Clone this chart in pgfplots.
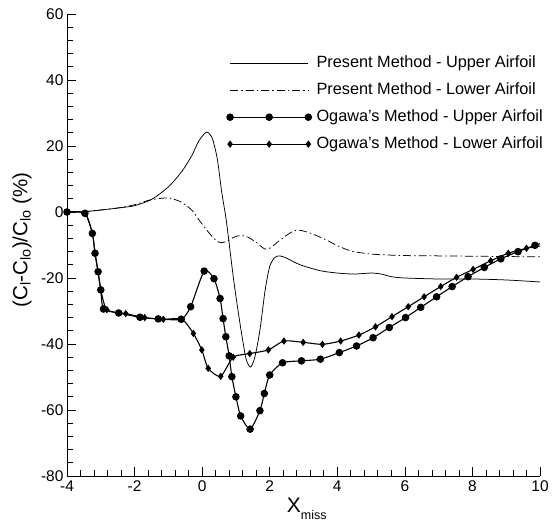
\documentclass[border=0pt]{standalone}
\usepackage{pgfplots}
\pgfplotsset{compat=1.18}
\usepackage{fontspec}
\setmainfont{Liberation Sans}
\newcommand{\lgf}{\fontsize{16.3}{19}\selectfont}
\begin{document}
\begin{tikzpicture}
\begin{axis}[
  scale only axis, width=473pt, height=462pt,
  xmin=-4, xmax=10, ymin=-80, ymax=60,
  axis lines=left, axis line style={-, line width=0.8pt},
  xtick={-4,-2,...,10}, ytick={-80,-60,...,60},
  minor x tick num=4, minor y tick num=4,
  tick align=inside, major tick length=9pt, minor tick length=6pt,
  tick style={line width=0.7pt, black},
  /pgf/number format/assume math mode=true,
  ticklabel style={font=\fontsize{15.5}{18}\selectfont},
  xticklabel style={yshift=-1pt},
  xlabel={{\fontsize{21}{24}\selectfont X}\raisebox{-7pt}{\fontsize{12.5}{14}\selectfont miss}},
  xlabel style={at={(rel axis cs:0.507,0)}, anchor=base, yshift=-37pt},
  ylabel={\fontsize{20.5}{23}\selectfont (C\textsubscript{l}-C\textsubscript{lo})/C\textsubscript{lo} (\%)},
  ylabel style={at={(rel axis cs:-0.0951,0.511)}, anchor=center},
  legend style={at={(0.338,0.913)}, anchor=north west, draw=none, fill=none,
    inner sep=0pt, outer sep=0pt,
    nodes={inner sep=1pt, text height=12pt, text depth=4pt},
    font=\lgf, row sep=9pt, column sep=4pt, legend cell align=left},
  legend image code/.code={\draw[mark repeat=2,mark phase=2,#1] plot coordinates {(0cm,0cm) (1.375cm,0cm) (2.75cm,0cm)};},
]
% Present Method - Upper
\addplot[black, line width=0.75pt, smooth, tension=0.45] coordinates {
(-4,0) (-3.5,0.1) (-3,0.6) (-2.5,1.2) (-2,1.9) (-1.5,3.8) (-1,7.6) (-0.6,12.3) (-0.3,17.2) (-0.1,21.5) (0.13,24.2) (0.3,22.3) (0.45,16) (0.58,6) (0.72,-3) (0.92,-19.6) (1.05,-29) (1.17,-37) (1.3,-44.5) (1.43,-47) (1.56,-44) (1.71,-35.8) (1.86,-24) (2.0,-16.5) (2.15,-13.8) (2.3,-13.3) (2.5,-14) (2.9,-16) (3.5,-17.8) (4.0,-18.5) (4.5,-18.8) (5.0,-18.5) (5.3,-18.8) (5.6,-19.6) (6.0,-20) (7.0,-20.3) (8.0,-20.3) (9.0,-20.6) (10,-21.2)
};
\addlegendentry{\lgf Present Method - Upper Airfoil}
% Present Method - Lower
\addplot[black, line width=0.75pt, smooth, tension=0.45, dash pattern=on 8pt off 3pt on 1.5pt off 3pt] coordinates {
(-4,0) (-3.5,0.1) (-3,0.6) (-2.5,1.2) (-2,2.2) (-1.6,3.5) (-1.25,4.1) (-0.95,4.2) (-0.6,2.9) (-0.3,0.5) (-0.1,-2.3) (0.1,-5) (0.3,-7.5) (0.45,-8.9) (0.58,-9.3) (0.75,-8.8) (0.95,-7.6) (1.15,-7.1) (1.35,-7.6) (1.6,-9.2) (1.85,-11.2) (2.0,-11) (2.2,-9.4) (2.45,-7.4) (2.7,-5.8) (2.85,-5.5) (3.05,-5.9) (3.35,-7) (3.7,-8.6) (4.0,-10.2) (4.4,-11.8) (4.8,-12.5) (5.2,-12.9) (6,-13.2) (7,-13.3) (8,-13.4) (9,-13.5) (10,-13.6)
};
\addlegendentry{\lgf Present Method - Lower Airfoil}
% Ogawa - Upper
\addplot[black, line width=1.1pt, smooth, tension=0.4, mark=*, mark size=3.2pt, mark indices={1,...,41}] coordinates {
(-4,0) (-3.47,-0.4) (-3.25,-6.5) (-3.17,-12.5) (-3.08,-18.1) (-3.0,-23.6) (-2.92,-29.4) (-2.47,-30.6) (-1.84,-31.9) (-1.3,-32.4) (-0.62,-32.5) (-0.34,-28.7) (0.06,-17.9) (0.35,-20.2) (0.53,-26.2) (0.62,-32.3) (0.70,-37.8) (0.80,-43.6) (0.88,-49.9) (1.0,-56) (1.14,-61.8) (1.42,-65.8) (1.71,-60.2) (1.84,-55) (2.0,-49.4) (2.38,-45.7) (2.94,-45.1) (3.5,-44.6) (4.06,-42.6) (4.57,-40.6) (5.06,-38.1) (5.54,-35) (6.02,-32) (6.47,-28.9) (6.94,-25.7) (7.4,-22.6) (7.87,-19.6) (8.35,-16.8) (8.84,-14.2) (9.35,-12) (9.85,-10.1) (10,-9.6)
};
\addlegendentry{\lgf Ogawa's Method - Upper Airfoil}
% Ogawa - Lower
\addplot[black, line width=1.1pt, smooth, tension=0.4, mark=diamond*, mark size=2.8pt, mark indices={1,...,33}] coordinates {
(-4,0) (-3.47,-0.4) (-3.25,-6.5) (-3.17,-12.5) (-3.08,-18.1) (-3.0,-23.6) (-2.82,-29.6) (-2.26,-30.8) (-1.7,-32) (-1.15,-32.5) (-0.6,-32.5) (-0.26,-36.8) (-0.01,-41.8) (0.18,-47.4) (0.55,-49.8) (0.92,-44) (1.41,-42.9) (1.96,-41.8) (2.42,-39.1) (2.99,-39.5) (3.56,-40.1) (4.1,-39.1) (4.64,-37.3) (5.13,-34.8) (5.62,-31.7) (6.1,-28.7) (6.57,-25.7) (7.06,-22.6) (7.53,-19.8) (8.02,-17.4) (8.54,-14.8) (9.06,-12.5) (9.6,-11) (10,-10.3)
};
\addlegendentry{\lgf Ogawa's Method - Lower Airfoil}
\end{axis}
\path ([xshift=-67pt,yshift=-46pt]current axis.south west) rectangle ([xshift=12pt,yshift=14pt]current axis.north east);
\end{tikzpicture}
\end{document}
